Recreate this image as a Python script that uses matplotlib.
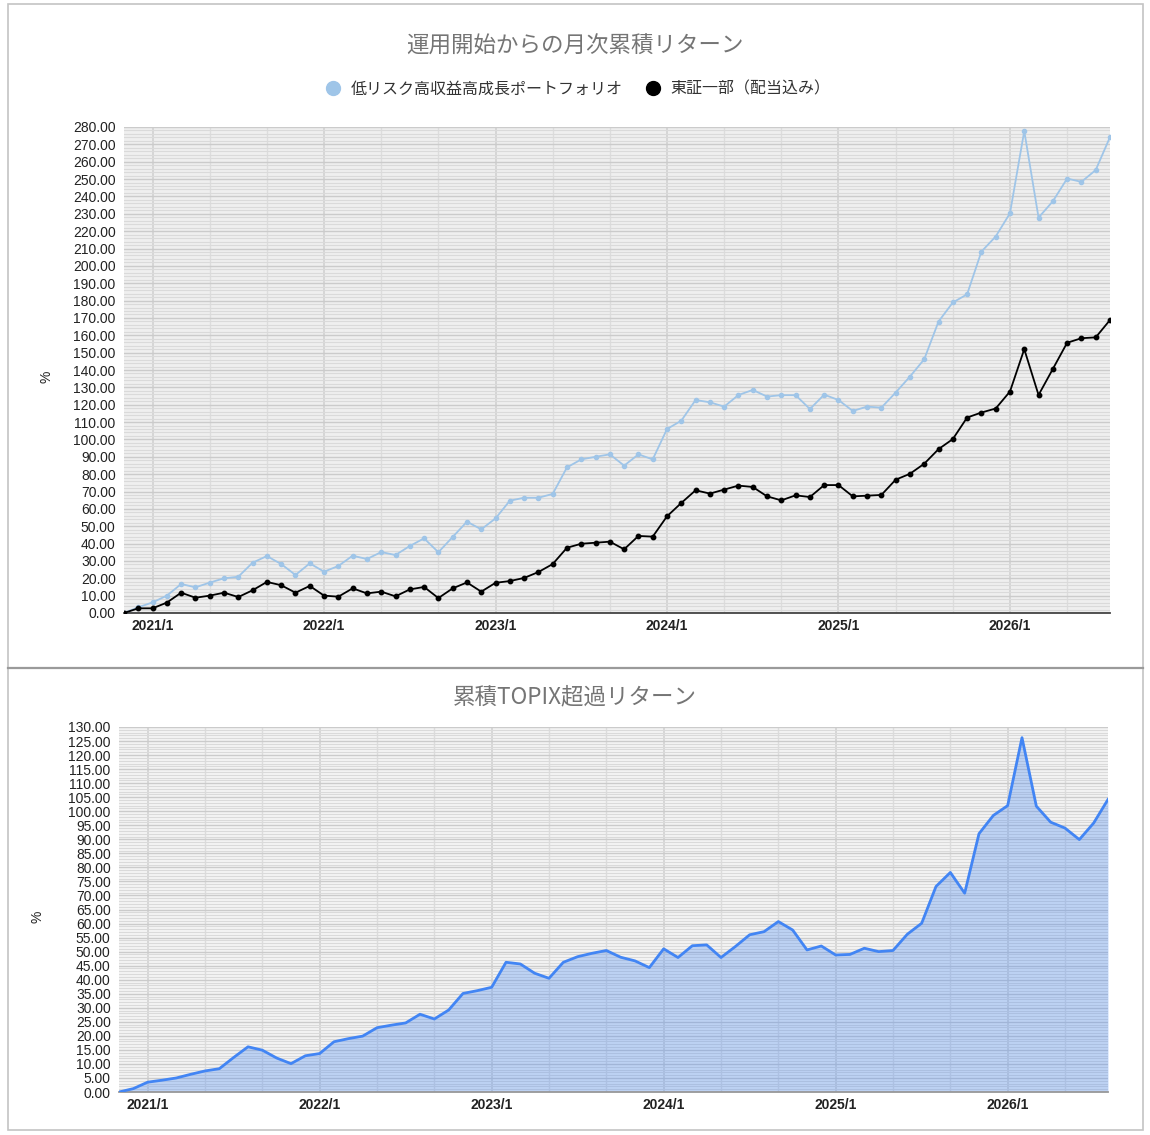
import numpy as np
import matplotlib
matplotlib.use("Agg")
from matplotlib import pyplot as plt
from matplotlib.lines import Line2D
from matplotlib.patches import Rectangle
from matplotlib.ticker import MultipleLocator, FixedLocator

# monthly points, 2020/11 .. 2026/8
start_year, start_month = 2020, 11
portfolio = [0, 3.3, 6.1, 10.0, 16.7, 14.8, 17.5, 20.0, 20.9, 29.0, 32.8, 28.2, 21.9, 28.6,
             23.8, 27.1, 33.0, 31.1, 35.1, 33.4, 38.6, 43.0, 35.0, 43.8, 52.6, 48.2, 54.5,
             64.7, 66.4, 66.4, 68.6, 83.9, 88.5, 90.0, 91.4, 84.9, 91.4, 88.5, 106.0, 110.8,
             122.7, 121.4, 118.9, 125.6, 128.5, 124.7, 125.5, 125.5, 117.5, 125.8, 122.7,
             116.4, 118.9, 118.3, 127.0, 136.2, 146.2, 167.9, 178.9, 183.6, 208.2, 216.9,
             230.3, 277.7, 227.8, 237.2, 250.3, 248.4, 255.2, 274.2]
topix = [0, 2.7, 2.7, 6.0, 11.7, 8.8, 10.0, 11.7, 9.2, 13.1, 17.9, 16.0, 11.7, 15.6, 10.0,
         9.4, 14.2, 11.3, 12.3, 9.6, 13.6, 15.0, 8.6, 14.2, 17.6, 12.3, 17.4, 18.4, 20.2,
         23.6, 28.2, 37.6, 39.9, 40.5, 41.1, 36.7, 44.4, 44.0, 55.7, 63.4, 70.7, 68.8, 71.1,
         73.4, 72.6, 67.2, 64.9, 67.8, 66.8, 73.7, 73.7, 67.2, 67.6, 68.0, 76.8, 80.2, 86.0,
         94.4, 100.2, 112.6, 115.5, 117.8, 127.6, 152.0, 125.6, 140.6, 155.7, 158.3, 158.8,
         168.8]
excess = [0, 1.2, 3.5, 4.2, 5.0, 6.3, 7.5, 8.3, 12.3, 16.1, 14.9, 12.1, 10.1, 12.9, 13.7,
          17.9, 19.0, 19.9, 22.9, 23.8, 24.6, 27.7, 26.0, 29.2, 35.1, 36.1, 37.3, 46.2, 45.6,
          42.3, 40.5, 46.2, 48.2, 49.4, 50.4, 48.0, 46.7, 44.3, 51.0, 47.9, 52.1, 52.4, 47.9,
          51.8, 56.0, 57.1, 60.7, 57.7, 50.6, 52.0, 48.8, 49.0, 51.2, 50.0, 50.4, 56.2, 60.1,
          73.2, 78.2, 70.8, 92.0, 98.5, 102.0, 126.2, 101.8, 96.1, 94.0, 89.9, 95.8, 104.2]

name_pf = "低リスク高収益高成長ポートフォリオ"
name_tp = "東証一部（配当込み）"
title_top = "運用開始からの月次累積リターン"
title_bot = "累積TOPIX超過リターン"

months = []
y, m = start_year, start_month
for _ in portfolio:
    months.append(f"{y}/{m}")
    m += 1
    if m > 12:
        y, m = y + 1, 1
x = np.arange(len(months))
year_ticks = [i for i, s in enumerate(months) if s.endswith("/1")]
quarter_ticks = [i for i, s in enumerate(months) if s.split("/")[1] in ("1", "5", "9")]

JP = ["Noto Sans CJK JP", "DejaVu Sans"]
plt.rcParams["font.family"] = ["Liberation Sans", "DejaVu Sans"]

W, H = 1150, 1135
fig = plt.figure(figsize=(W / 100, H / 100), dpi=100)

def fx(px):
    return px / W

def fy(py):
    return 1 - py / H

# panel borders
fig.add_artist(Rectangle((fx(8), fy(1130)), fx(1135), (1126) / H, transform=fig.transFigure,
                         fill=False, edgecolor="#c4c4c4", lw=1.2))
fig.add_artist(Line2D([fx(8), fx(1143)], [fy(668), fy(668)], transform=fig.transFigure,
                      color="#9a9a9a", lw=1.6))


def style_axes(ax, ymax, ymajor, yminor, base_color):
    ax.set_facecolor("#efefef")
    ax.set_xlim(0, len(x) - 1)
    ax.set_ylim(0, ymax)
    ax.yaxis.set_major_locator(MultipleLocator(ymajor))
    ax.yaxis.set_minor_locator(MultipleLocator(yminor))
    ax.yaxis.set_major_formatter(plt.FuncFormatter(lambda v, p: f"{v:.2f}"))
    ax.xaxis.set_major_locator(FixedLocator(year_ticks))
    ax.xaxis.set_minor_locator(FixedLocator(quarter_ticks))
    ax.set_xticklabels([months[i] for i in year_ticks], fontweight="bold")
    ax.grid(which="minor", axis="y", color="#dadada", lw=0.8)
    ax.grid(which="major", axis="y", color="#cbcbcb", lw=1.0)
    ax.grid(which="minor", axis="x", color="#dddddd", lw=1.0)
    ax.grid(which="major", axis="x", color="#d2d2d2", lw=1.2)
    ax.set_axisbelow(True)
    ax.tick_params(which="both", length=0, labelsize=10, colors="#222222")
    ax.tick_params(axis="y", pad=6)
    ax.tick_params(axis="x", pad=4)
    for s in ("top", "right", "left"):
        ax.spines[s].set_visible(False)
    ax.spines["bottom"].set_color(base_color)
    ax.spines["bottom"].set_linewidth(1.3)
    ax.set_ylabel("%", fontsize=10, color="#222222")


# top chart
ax1 = fig.add_axes([fx(124), fy(613), fx(986), 486 / H])
style_axes(ax1, 280, 10, 2, "#444444")
ax1.yaxis.set_label_coords(-0.072, 0.486)
ax1.plot(x, portfolio, color="#9fc5e8", lw=1.3, marker="o", ms=3, zorder=3)
ax1.plot(x, topix, color="#000000", lw=1.3, marker="o", ms=3.2, zorder=4)

fig.text(0.5, fy(46), title_top, ha="center", va="center", fontsize=16.2,
         color="#757575", family=JP)
handles = [Line2D([], [], ls="none", marker="o", ms=10, color="#9fc5e8"),
           Line2D([], [], ls="none", marker="o", ms=10, color="#000000")]
fig.legend(handles, [name_pf, name_tp], loc="center", bbox_to_anchor=(fx(574), fy(89)),
           ncol=2, frameon=False, handletextpad=0.1, columnspacing=0.9,
           prop={"family": JP, "size": 11.5}, labelcolor="#333333")

# bottom chart
ax2 = fig.add_axes([fx(119), fy(1092), fx(989), 365 / H])
style_axes(ax2, 130, 5, 1, "#999999")
ax2.set_facecolor("#f4f4f4")
ax2.yaxis.set_label_coords(-0.075, 0.48)
ax2.fill_between(x, excess, 0, color="#4285f4", alpha=0.3, lw=0, zorder=2)
ax2.plot(x, excess, color="#4285f4", lw=2, zorder=3)
fig.text(0.5, fy(697), title_bot, ha="center", va="center", fontsize=16.2,
         color="#757575", family=JP)

fig.savefig("out.png", dpi=100)
